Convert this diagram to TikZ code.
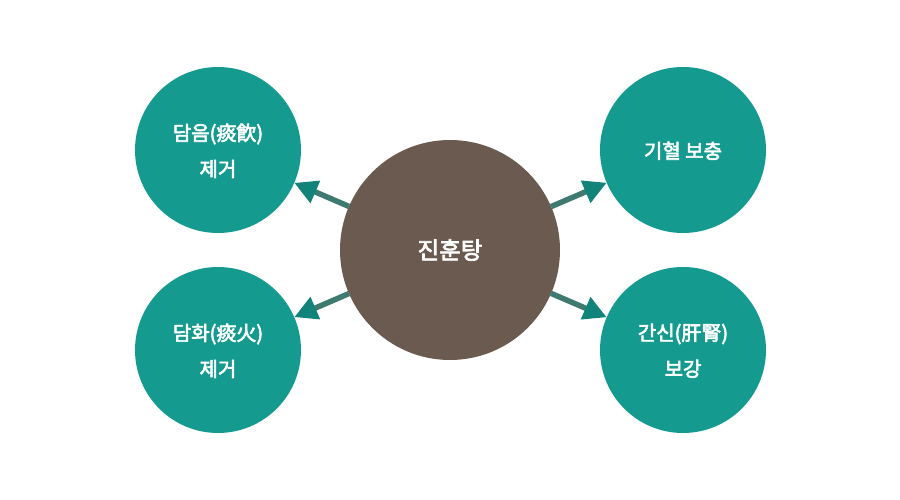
\documentclass[tikz,border=0pt]{standalone}
\usepackage{fontspec}
\setmainfont{Noto Sans CJK KR}
\newfontfamily\krbold{Noto Sans CJK KR}[FakeBold=3]
\usetikzlibrary{arrows.meta,positioning}
\definecolor{tealfill}{HTML}{159A90}
\definecolor{brownfill}{HTML}{6A5A50}
\definecolor{arrowline}{HTML}{3F7A70}

\begin{document}
\begin{tikzpicture}[
x=1pt, y=-1pt,
effect/.style={circle, fill=tealfill, text=white, minimum size=166pt, inner sep=0pt, outer sep=0pt, align=center, text depth=0pt, font=\krbold\fontsize{20}{36}\selectfont},
herb/.style={circle, fill=brownfill, text=white, minimum size=220pt, inner sep=0pt, outer sep=0pt, font=\krbold\fontsize{23.5}{26}\selectfont},
arrow/.style={-{Triangle[length=23pt,width=23pt,color=tealfill!85!black]}, line width=5.5pt, draw=arrowline}
]
\useasboundingbox (0,0) rectangle (900,500);
\node[herb] (center) at (450,250) {진훈탕};
\node[effect] (tl) at (218,150) {담음(痰飮)\\제거};
\node[effect] (bl) at (218,350) {담화(痰火)\\제거};
\node[effect] (tr) at (683,150) {기혈 보충};
\node[effect] (br) at (683,350) {간신(肝腎)\\보강};
\draw[arrow] (center) -- (tl);
\draw[arrow] (center) -- (bl);
\draw[arrow] (center) -- (tr);
\draw[arrow] (center) -- (br);
\end{tikzpicture}
\end{document}
